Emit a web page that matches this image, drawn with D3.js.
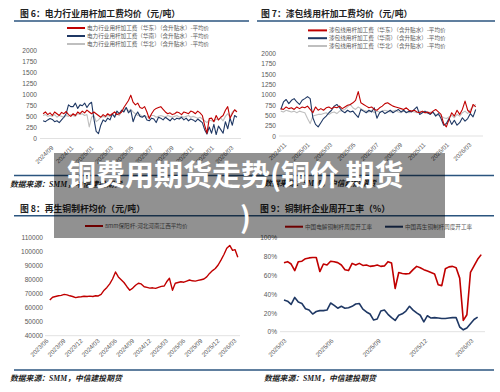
<!DOCTYPE html>
<html>
<head>
<meta charset="utf-8">
<script src="https://cdn.jsdelivr.net/npm/d3@7"></script>
<style>
  body { margin: 0; background: #fff; }
  svg { display: block; }
</style>
</head>
<body>
<div id="wrapper"></div>
<script>
// fig 6 / fig 7: weekly processing fees (yuan/t)
const fig6Start = "2024-08-05";
const fig6East = [
  560, 600, 540, 580, 520, 600, 560, 520, 590, 560, 610, 540, 500, 560, 520, 600, 560,
  620, 580, 640, 600, 560, 600, 560, 520, 480, 540, 500, 560, 520, 560, 600, 540, 560, 600,
  700, 780, 860, 980, 820, 760, 800, 700, 680, 720, 600, 450, 560, 640, 680, 700, 720,
  660, 600, 560, 580, 540, 560, 600, 580, 540, 600, 580, 560, 620, 600, 560, 620, 580,
  520, 300, 120, 450, 460, 380, 520, 420, 480, 520, 640, 720, 460, 560, 650, 600
];
const fig6South = [
  400, 380, 420, 450, 430, 380, 400, 360, 420, 480, 560, 760, 720, 720, 800, 680, 760,
  740, 800, 700, 780, 820, 450, 160, 110, 300, 420, 380, 460, 420, 560, 480, 620, 560, 640,
  600, 700, 580, 640, 380, 520, 600, 500, 480, 520, 420, 400, 460, 440, 360, 480, 460,
  420, 480, 440, 400, 460, 420, 460, 440, 480, 420, 460, 400, 440, 420, 380, 440, 400,
  360, 200, 100, 260, 120, 320, 90, 280, 200, 120, 380, 220, 460, 300, 520, 480
];
const fig6North = [
  520, 540, 500, 520, 500, 540, 480, 520, 500, 480, 520, 500, 540, 520, 500, 560, 540,
  560, 520, 540, 260, 480, 520, 380, 420, 480, 500, 480, 520, 500, 540, 500, 560, 520, 600,
  640, 700, 620, 660, 600, 560, 520, 540, 500, 520, 480, 500, 520, 520, 480, 500, 520,
  500, 480, 520, 500, 480, 500, 520, 480, 500, 480, 500, 520, 480, 500, 480, 460, 480,
  440, 400, 360, 420, 400, 380, 440, 420, 460, 400, 500, 560, 480, 600, 640, 600
];

const fig7Start = "2024-10-21";
const fig7East = [
  660, 640, 700, 660, 680, 640, 700, 660, 700, 680, 720, 640, 560, 700, 620,
  660, 620, 680, 700, 660, 700, 680, 720, 660, 700, 740, 760, 800, 860, 1070, 800, 760,
  720, 680, 700, 640, 620, 680, 720, 780, 800, 760, 720, 700, 680, 660, 640, 680, 620, 600,
  620, 580, 560, 600, 560, 580, 540, 600, 640, 580, 520, 300, 220, 400, 560, 480, 620,
  520, 640, 840, 620, 560, 760, 700
];
const fig7South = [
  640, 820, 880, 780, 860, 900, 820, 760, 860, 900, 950, 900, 440, 280, 220,
  320, 420, 480, 560, 620, 720, 760, 680, 600, 560, 620, 580, 600, 520, 450, 640, 600,
  560, 620, 580, 680, 430, 560, 600, 540, 580, 620, 560, 600, 640, 580, 620, 560, 600, 580,
  640, 700, 520, 560, 600, 560, 520, 580, 480, 540, 420, 260, 300, 420, 280, 380, 260,
  320, 440, 360, 420, 540, 460, 640
];
const fig7North = [
  600, 580, 620, 600, 580, 600, 560, 600, 580, 560, 420, 300, 480, 500, 520,
  520, 540, 560, 520, 560, 580, 540, 600, 620, 640, 700, 760, 680, 640, 700, 660, 620,
  600, 580, 620, 560, 600, 580, 600, 620, 600, 580, 600, 620, 580, 560, 600, 580, 560, 600,
  580, 560, 600, 580, 560, 540, 580, 560, 520, 500, 480, 440, 420, 460, 500, 440, 520,
  480, 560, 600, 540, 640, 700, 760
];

// fig 8: recycled copper rod price (yuan/t), 1st and 16th of each month from 2023-06-16
const fig8Start = "2023-06-01";
const fig8Rod = [
  65500, 67500, 68000, 68500, 68800, 69500, 69200, 68500, 68000, 67200, 67600, 67800, 68200,
  68000, 68300, 68000, 68500, 68400, 69500, 72500, 74500, 77000, 80500, 85500, 82000,
  80000, 78000, 75000, 72500, 74000, 76000, 77500, 77000, 75000, 74500, 74000, 74200,
  73800, 74500, 75200, 75500, 78500, 81000, 72500, 77500, 78000, 78500, 78200, 79000,
  79800, 79200, 79000, 79500, 80000, 80500, 82000, 84500, 86500, 88000, 90500, 94000,
  98000, 102500, 104500, 101000, 101500, 96000
];

// fig 9: weekly operating rates (%)
const fig9Start = "2025-02-27";
const fig9Cathode = [
  73.4, 74.5, 72, 65, 74.5, 75, 77.7, 78.5, 79, 79, 64, 72, 71, 75, 74.5, 73.5, 71, 66, 65,
  72.7, 71, 72.7, 70.5, 71, 69.5, 70, 71, 69.5, 70, 74.5, 73, 46, 63, 62, 61.5, 62, 66,
  69.5, 68, 66, 64.5, 63, 61.5, 50, 49, 67, 69, 69.5, 68, 57, 12, 18, 63, 70, 77, 82
];
const fig9Recycled = [
  33.7, 32.5, 29, 36.5, 31.5, 30, 24.5, 23, 18.8, 21.5, 22.4, 22.4, 23, 30.5, 28, 25, 27, 25,
  25.5, 27, 29.5, 30, 24, 21, 18.8, 12.4, 13.5, 22, 23, 18.5, 15, 12, 17.5, 19, 22, 27, 23,
  20, 17.5, 10.5, 17, 14.5, 15, 14.5, 14, 14, 14.5, 15, 15, 5, 2, 4, 8.5, 13, 15.5
];

const feeTicks = [0, 250, 500, 750, 1000, 1250, 1500, 1750, 2000];
const rodTicks = [40000, 50000, 60000, 70000, 80000, 90000, 100000, 110000];
const rateTicks = [0, 20, 40, 60, 80, 100];
const fig6Months = ["2024-09", "2024-11", "2025-01", "2025-03", "2025-05", "2025-07", "2025-09", "2025-11", "2026-01", "2026-03"];
const fig7Months = ["2024-11", "2025-01", "2025-03", "2025-05", "2025-07", "2025-09", "2025-11", "2026-01", "2026-03"];
const fig8Months = ["2023-06", "2023-09", "2023-12", "2024-03", "2024-06", "2024-09", "2024-12", "2025-03", "2025-06", "2025-09", "2025-12", "2026-03"];
const fig9Months = ["2025-03", "2025-06", "2025-09", "2025-12", "2026-03"];

const RED = "#c00000";
const NAVY = "#1f3864";
const GREY = "#bfbfbf";
const RULE = "#2b557f";
const cjk = "'Noto Sans CJK SC', 'Noto Sans', sans-serif";
const latin = "'Liberation Sans', Arial, sans-serif";

const parseDay = d3.timeParse("%Y-%m-%d");
const parseMonth = d3.timeParse("%Y-%m");
const fmtMonth = d3.timeFormat("%Y/%m");

function weekly(start, values) {
  const t0 = parseDay(start);
  return values.map((v, i) => ({ date: d3.timeDay.offset(t0, 7 * i), value: v }));
}
function semiMonthly(start, values) {
  const m0 = parseDay(start);
  return values.map((v, i) => {
    const k = i + 1;
    const m = d3.timeMonth.offset(m0, Math.floor(k / 2));
    return { date: k % 2 ? d3.timeDay.offset(m, 15) : m, value: v };
  });
}

const svg = d3.select("#wrapper").append("svg")
  .attr("width", 500)
  .attr("height", 392);
svg.append("rect").attr("width", 500).attr("height", 392).attr("fill", "#fff");

function rule(x1, x2, y) {
  svg.append("line")
    .attr("x1", x1).attr("x2", x2).attr("y1", y).attr("y2", y)
    .attr("stroke", RULE).attr("stroke-width", 1.5);
}

function source(x, y) {
  svg.append("text")
    .attr("x", x).attr("y", y)
    .attr("fill", "#222")
    .style("font-family", "'Liberation Serif', 'Noto Sans CJK SC', serif")
    .style("font-size", "7.8px")
    .style("font-style", "italic")
    .style("font-weight", "bold")
    .text("数据来源：SMM，中信建投期货");
}

function drawPanel(cfg) {
  svg.append("text")
    .attr("x", cfg.titleX).attr("y", cfg.titleY)
    .attr("fill", "#222")
    .style("font-family", cjk)
    .style("font-size", "8.8px")
    .style("font-weight", "bold")
    .text(cfg.title);
  rule(cfg.rule[0], cfg.rule[1], cfg.rule[2]);

  const xScale = d3.scaleTime()
    .domain(cfg.xDomain.map(parseMonth))
    .range(cfg.xRange);
  const yScale = d3.scaleLinear()
    .domain(cfg.yDomain)
    .range(cfg.yRange);

  svg.append("line")
    .attr("x1", cfg.base[0]).attr("x2", cfg.base[1])
    .attr("y1", yScale(cfg.yDomain[0])).attr("y2", yScale(cfg.yDomain[0]))
    .attr("stroke", "#d9d9d9").attr("stroke-width", 0.8);

  const yAxisGenerator = d3.axisLeft(yScale)
    .tickValues(cfg.yTicks)
    .tickSize(0)
    .tickPadding(0)
    .tickFormat(cfg.yFormat);
  svg.append("g")
    .attr("transform", `translate(${cfg.yLabelX},0)`)
    .call(yAxisGenerator)
    .call(g => g.select(".domain").remove())
    .call(g => g.selectAll("text")
      .attr("fill", "#595959")
      .attr("dy", "0.34em")
      .style("font-family", latin)
      .style("font-size", "6.6px"));

  const xAxisGenerator = d3.axisBottom(xScale)
    .tickValues(cfg.xTicks.map(parseMonth))
    .tickSize(0)
    .tickFormat(fmtMonth);
  svg.append("g")
    .attr("transform", `translate(0,${cfg.xLabelY})`)
    .call(xAxisGenerator)
    .call(g => g.select(".domain").remove())
    .call(g => g.selectAll("text")
      .attr("x", 0).attr("y", 0).attr("dy", "0.3em")
      .attr("transform", "rotate(-45)")
      .attr("fill", "#595959")
      .style("text-anchor", "end")
      .style("font-family", latin)
      .style("font-size", "6.2px"));

  const lineGenerator = d3.line()
    .x(d => xScale(d.date))
    .y(d => yScale(d.value));

  for (const s of cfg.series) {
    svg.append("path")
      .datum(s.data)
      .attr("d", lineGenerator)
      .attr("fill", "none")
      .attr("stroke", s.color)
      .attr("stroke-width", cfg.lineWidth)
      .attr("stroke-linejoin", "round");
  }

  for (const s of cfg.series) {
    const [lx, ly] = s.legend;
    svg.append("line")
      .attr("x1", lx).attr("x2", lx + cfg.swatch)
      .attr("y1", ly).attr("y2", ly)
      .attr("stroke", s.color).attr("stroke-width", 2);
    svg.append("text")
      .attr("x", lx + cfg.swatch + 2).attr("y", ly)
      .attr("dy", "0.35em")
      .attr("fill", "#595959")
      .style("font-family", cjk)
      .style("font-size", "5.6px")
      .text(s.name);
  }
}

drawPanel({
  title: "图 6：电力行业用杆加工费均价（元/吨）",
  titleX: 20, titleY: 16.5,
  rule: [14, 249, 21],
  xDomain: ["2024-09", "2026-03"], xRange: [52, 232],
  yDomain: [0, 2000], yRange: [138.5, 50],
  base: [40, 241],
  yTicks: feeTicks, yFormat: d3.format("d"), yLabelX: 37,
  xTicks: fig6Months, xLabelY: 147,
  lineWidth: 1.1, swatch: 18,
  series: [
    { name: "电力行业用杆加工费（华北）（含升贴水）-平均价", color: GREY, data: weekly(fig6Start, fig6North), legend: [67, 44] },
    { name: "电力行业用杆加工费（华南）（含升贴水）-平均价", color: NAVY, data: weekly(fig6Start, fig6South), legend: [67, 36] },
    { name: "电力行业用杆加工费（华东）（含升贴水）-平均价", color: RED, data: weekly(fig6Start, fig6East), legend: [67, 28] }
  ]
});

drawPanel({
  title: "图 7：漆包线用杆加工费均价（元/吨）",
  titleX: 261, titleY: 16.5,
  rule: [257, 495, 21],
  xDomain: ["2024-11", "2026-03"], xRange: [285, 470],
  yDomain: [0, 2000], yRange: [136, 53],
  base: [279, 483],
  yTicks: feeTicks, yFormat: d3.format("d"), yLabelX: 276,
  xTicks: fig7Months, xLabelY: 144,
  lineWidth: 1.1, swatch: 19,
  series: [
    { name: "漆包线用杆加工费（华北）（含升贴水）-平均价", color: GREY, data: weekly(fig7Start, fig7North), legend: [308, 46] },
    { name: "漆包线用杆加工费（华南）（含升贴水）-平均价", color: NAVY, data: weekly(fig7Start, fig7South), legend: [308, 38.2] },
    { name: "漆包线用杆加工费（华东）（含升贴水）-平均价", color: RED, data: weekly(fig7Start, fig7East), legend: [308, 30.4] }
  ]
});

rule(14, 494, 175.5);
source(10, 187);
source(264, 186);

drawPanel({
  title: "图 8：再生铜制杆均价（元/吨）",
  titleX: 20, titleY: 211.5,
  rule: [14, 250, 215.7],
  xDomain: ["2023-06", "2026-03"], xRange: [47, 235],
  yDomain: [40000, 110000], yRange: [335.7, 237.7],
  base: [45, 240],
  yTicks: rodTicks, yFormat: d3.format("d"), yLabelX: 43,
  xTicks: fig8Months, xLabelY: 340,
  lineWidth: 1.4, swatch: 18,
  series: [
    { name: "8mm保阳杆-河北河南江西平均价", color: RED, data: semiMonthly(fig8Start, fig8Rod), legend: [85, 226] }
  ]
});

drawPanel({
  title: "图 9：铜制杆企业周开工率（%）",
  titleX: 260, titleY: 211.5,
  rule: [250, 494, 215.7],
  xDomain: ["2025-03", "2026-03"], xRange: [285, 472],
  yDomain: [0, 100], yRange: [331.7, 237.7],
  base: [280, 485],
  yTicks: rateTicks, yFormat: d => d + "%", yLabelX: 277,
  xTicks: fig9Months, xLabelY: 340,
  lineWidth: 1.6, swatch: 18,
  series: [
    { name: "中国再生铜制杆周度开工率", color: NAVY, data: weekly(fig9Start, fig9Recycled), legend: [385, 226.7] },
    { name: "中国电解铜制杆周度开工率", color: RED, data: weekly(fig9Start, fig9Cathode), legend: [285, 226.7] }
  ]
});

rule(14, 494, 370);
source(10, 381);
source(264, 381);

// article headline banner over the middle of the page
const banner = svg.append("g");
banner.append("rect")
  .attr("x", 54).attr("y", 153)
  .attr("width", 391).attr("height", 85)
  .attr("fill", "rgba(0,0,0,0.43)");
banner.append("text")
  .attr("x", 67).attr("y", 186)
  .attr("fill", "#fff")
  .style("font-family", cjk)
  .style("font-size", "29px")
  .style("font-weight", "bold")
  .text("铜费用期货走势(铜价 期货");
banner.append("text")
  .attr("x", 240).attr("y", 228)
  .attr("fill", "#fff")
  .style("font-family", cjk)
  .style("font-size", "29px")
  .style("font-weight", "bold")
  .text(")");
</script>
</body>
</html>
